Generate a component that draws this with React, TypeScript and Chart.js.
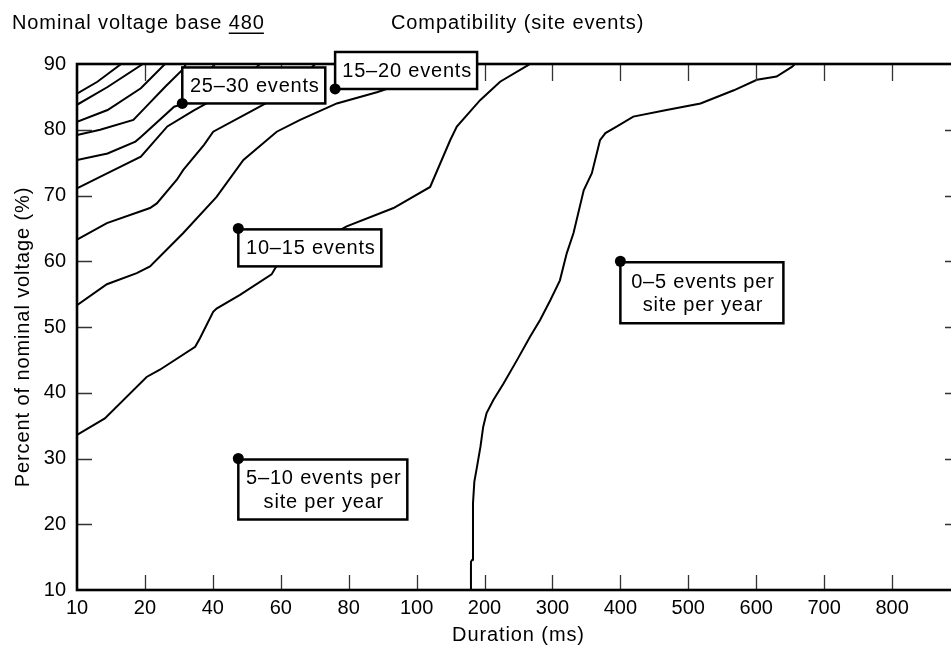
import React, { useEffect, useRef } from "react";
import { Chart, registerables } from "chart.js";

Chart.register(...registerables);

const FONT = '"Liberation Sans", Arial, Helvetica, sans-serif';

// x axis: durations placed at evenly spaced tick positions
const durationTicks = [10, 20, 40, 60, 80, 100, 200, 300, 400, 500, 600, 700, 800, 900];
const durationTickLabels = ["10", "20", "40", "60", "80", "100", "200", "300", "400", "500", "600", "700", "800", ""];
const percentTicks = [10, 20, 30, 40, 50, 60, 70, 80, 90];

// contour lines: [duration (ms), percent of nominal voltage]
const contour1 = [[10, 85.5], [13, 87.3], [16.5, 90]];
const contour2 = [[10, 83.8], [14.5, 86.5], [19.7, 90]];
const contour3 = [[10, 81.2], [14.5, 83.0], [19.4, 86.3], [25.9, 90]];
const contour4 = [[10, 79.2], [13.4, 80.0], [18.3, 81.5], [20.5, 83.6], [25.9, 86.5], [31.0, 89.1], [32.1, 90]];
const contour5 = [[10, 75.4], [14.5, 76.4], [18.6, 78.2], [19.4, 78.9], [28.6, 83.5], [31.0, 83.9], [40.6, 90]];
const contour6 = [[10, 71.1], [14.5, 73.4], [19.4, 75.9], [26.6, 80.5], [34.3, 82.9], [45.1, 86.0], [53.9, 90]];
const contour7 = [[10, 63.3], [14.4, 65.8], [21.5, 68.1], [23.5, 68.8], [29.4, 72.4], [31.3, 73.9], [37.4, 77.7], [40.1, 79.7], [51.9, 83.0], [62.7, 86.0], [70.1, 90]];
const contour8 = [[10, 53.3], [14.4, 56.5], [18.8, 58.2], [21.5, 59.2], [31.3, 64.3], [41.1, 69.8], [49.0, 75.4], [58.8, 79.7], [65.7, 81.5], [76.5, 84.0], [88.3, 85.7], [105, 87.9], [164, 90]];
const contour9 = [[10, 33.6], [14.1, 36.1], [20.5, 42.4], [24.4, 43.5], [34.8, 47.0], [36.2, 48.3], [40.1, 52.3], [41.1, 52.8], [48.0, 54.9], [57.3, 58.0], [59, 59.5], [79.4, 65.3], [93.2, 68.1], [119.9, 71.3], [149.4, 78.4], [159.2, 80.5], [193.5, 84.5], [222.9, 87.3], [262.3, 89.7], [267, 90]];
const contour10 = [[180, 10], [180, 14.3], [182, 14.6], [183, 23.2], [185, 26.5], [189, 28.8], [194, 31.8], [198, 34.8], [203, 36.9], [213, 38.9], [228, 41.4], [248, 45.0], [267, 48.5], [282, 51.1], [297, 54.1], [311, 57.1], [321, 61.2], [331, 64.3], [346, 70.8], [358, 73.4], [370, 78.4], [378, 79.5], [395, 80.5], [419, 82.0], [468, 83.0], [518, 84.0], [567, 86.0], [601, 87.6], [630, 88.1], [653, 89.6], [657, 90]];

// region labels
const labelTexts = ["25–30 events", "15–20 events", "10–15 events", "0–5 events per\nsite per year", "5–10 events per\nsite per year"];
const labelDurations = [31, 76, 47.5, 400, 47.5];
const labelPercents = [84, 86.2, 65, 60, 30];

// label box layout (styling only)
const boxLayout = [
  { above: true, w: 143, h: 36 },
  { above: true, w: 142, h: 37 },
  { above: false, w: 143, h: 37 },
  { above: false, w: 163, h: 61 },
  { above: false, w: 169, h: 60 },
];

const contours = [contour1, contour2, contour3, contour4, contour5, contour6, contour7, contour8, contour9, contour10];

function durationToPosition(d: number): number {
  const n = durationTicks.length;
  for (let k = 0; k < n - 1; k++) {
    const a = durationTicks[k];
    const b = durationTicks[k + 1];
    if (d <= b || k === n - 2) return k + (d - a) / (b - a);
  }
  return 0;
}

function setSpacing(ctx: any, v: string) {
  try { ctx.letterSpacing = v; } catch (e) { /* ignore */ }
}

const overlayPlugin = {
  id: "overlay",
  beforeDatasetDraw(chart: any, args: any) {
    if (args.index !== 0) return;
    const { ctx, chartArea: a, scales } = chart;
    const xs = scales.x;
    const ys = scales.y;
    ctx.save();
    // inward ticks
    ctx.strokeStyle = "#333";
    ctx.lineWidth = 1.3;
    ctx.beginPath();
    for (let k = 1; k < durationTicks.length - 1; k++) {
      const px = Math.round(xs.getPixelForValue(k)) + 0.5;
      ctx.moveTo(px, a.bottom);
      ctx.lineTo(px, a.bottom - 15);
      ctx.moveTo(px, a.top);
      ctx.lineTo(px, a.top + 17);
    }
    for (const v of percentTicks) {
      if (v <= ys.min || v >= ys.max) continue;
      const py = Math.round(ys.getPixelForValue(v)) + 0.5;
      ctx.moveTo(a.left, py);
      ctx.lineTo(a.left + 15, py);
      ctx.moveTo(a.right, py);
      ctx.lineTo(a.right - 15, py);
    }
    ctx.stroke();
    // frame
    ctx.strokeStyle = "#000";
    ctx.lineWidth = 2.6;
    ctx.strokeRect(a.left, a.top, a.right - a.left, a.bottom - a.top);

    // label boxes
    ctx.font = `20px ${FONT}`;
    setSpacing(ctx, "0.8px");
    ctx.textAlign = "center";
    ctx.textBaseline = "middle";
    labelTexts.forEach((txt, i) => {
      const px = xs.getPixelForValue(durationToPosition(labelDurations[i]));
      const py = ys.getPixelForValue(labelPercents[i]);
      const L = boxLayout[i];
      const top = L.above ? py - L.h : py + 1;
      ctx.fillStyle = "#fff";
      ctx.fillRect(px, top, L.w, L.h);
      ctx.strokeStyle = "#000";
      ctx.lineWidth = 2.5;
      ctx.strokeRect(px, top, L.w, L.h);
      ctx.fillStyle = "#000";
      const lines = txt.split("\n");
      const cx = px + L.w / 2 + 1;
      const cy = top + L.h / 2 + 1;
      const lh = 23.5;
      lines.forEach((ln, j) => {
        ctx.fillText(ln, cx, cy + (j - (lines.length - 1) / 2) * lh);
      });
    });
    ctx.restore();
  },
  afterDraw(chart: any) {
    const { ctx, chartArea: a } = chart;
    ctx.save();
    ctx.fillStyle = "#000";
    ctx.font = `20px ${FONT}`;
    setSpacing(ctx, "0.9px");
    ctx.textBaseline = "alphabetic";
    ctx.textAlign = "left";
    const pre = "Nominal voltage base ";
    ctx.fillText(pre, 12, 29);
    const w0 = ctx.measureText(pre).width;
    ctx.fillText("480", 12 + w0, 29);
    const w1 = ctx.measureText("480").width;
    ctx.fillRect(12 + w0, 32.5, w1 - 1, 1.5);
    ctx.fillText("Compatibility (site events)", 391, 29);

    ctx.textAlign = "center";
    ctx.fillText("Duration (ms)", (a.left + a.right) / 2, 641);

    ctx.translate(29, 337);
    ctx.rotate(-Math.PI / 2);
    ctx.fillText("Percent of nominal voltage (%)", 0, 0);
    ctx.restore();
  },
};

export default function App() {
  const ref = useRef<HTMLCanvasElement | null>(null);

  useEffect(() => {
    if (!ref.current) return;
    const dotDataset = {
      data: labelDurations.map((d, i) => ({ x: durationToPosition(d), y: labelPercents[i] })),
      showLine: false,
      pointRadius: 5.5,
      pointBackgroundColor: "#000",
      pointBorderColor: "#000",
      pointBorderWidth: 0,
      clip: false as any,
    };
    const lineDatasets = contours.map((c) => ({
      data: c.map(([d, p]) => ({ x: durationToPosition(d), y: p })),
      showLine: true,
      borderColor: "#000",
      borderWidth: 2,
      pointRadius: 0,
      fill: false,
      tension: 0,
    }));
    const chart = new Chart(ref.current, {
      type: "scatter",
      data: { datasets: [dotDataset, ...lineDatasets] as any },
      options: {
        animation: false,
        responsive: false,
        devicePixelRatio: 1,
        events: [],
        layout: { padding: { top: 64, right: 15, left: 0, bottom: 0 } },
        plugins: { legend: { display: false }, tooltip: { enabled: false } },
        scales: {
          x: {
            type: "linear",
            min: 0,
            max: durationTicks.length - 1,
            afterFit: (s: any) => { s.height = 58; },
            grid: { display: false, drawTicks: false },
            border: { display: false },
            ticks: {
              stepSize: 1,
              autoSkip: false,
              maxRotation: 0,
              padding: 6,
              color: "#000",
              font: { family: FONT, size: 20 },
              callback: (v: any) => durationTickLabels[Math.round(Number(v))] ?? "",
            },
          },
          y: {
            type: "linear",
            min: 10,
            max: 90,
            afterFit: (s: any) => { s.width = 77; },
            grid: { display: false, drawTicks: false },
            border: { display: false },
            ticks: {
              stepSize: 10,
              padding: 11,
              color: "#000",
              font: { family: FONT, size: 20 },
            },
          },
        },
      },
      plugins: [overlayPlugin],
    });
    return () => chart.destroy();
  }, []);

  return (
    <div style={{ position: "fixed", left: 0, top: 0, width: 951, height: 648, overflow: "hidden", background: "#fff" }}>
      <canvas ref={ref} width={975} height={648} style={{ display: "block", width: 975, height: 648 }} />
    </div>
  );
}
